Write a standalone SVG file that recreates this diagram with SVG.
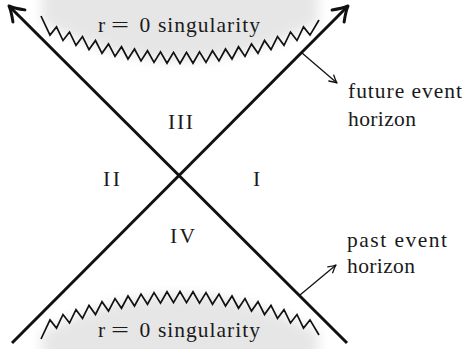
<svg xmlns="http://www.w3.org/2000/svg" xmlns:xlink="http://www.w3.org/1999/xlink" width="465" height="349" viewBox="0 0 465 349">
  <style>
    .lbl { font-family: "Liberation Serif", "Times New Roman", serif; font-size: 21.5px; fill: #1a1a1a; }
    .horizon { fill: none; stroke: #111; stroke-width: 3; }
    .pointer { fill: none; stroke: #111; stroke-width: 1.3; }
    .zig { fill: none; stroke: #111; stroke-width: 1.7; stroke-linejoin: miter; }
    .shade { fill: #e6e6e6; }
  </style>
  <defs>
    <filter id="blur" filterUnits="userSpaceOnUse" x="-50" y="-80" width="565" height="520">
      <feGaussianBlur stdDeviation="6"/>
    </filter>
    <marker id="bigArrow" markerUnits="userSpaceOnUse" orient="auto" refX="0" refY="0" markerWidth="20" markerHeight="20" overflow="visible">
      <path d="M -14,-8.5 Q -6,-2.5 0,0 Q -6,2.5 -14,8.5" fill="none" stroke="#111" stroke-width="3" stroke-linecap="round" stroke-linejoin="round"/>
    </marker>
    <marker id="smallArrow" markerUnits="userSpaceOnUse" orient="auto" refX="0" refY="0" markerWidth="10" markerHeight="10" overflow="visible">
      <path d="M -7.5,-3.8 Q -3,-1 0,0 Q -3,1 -7.5,3.8" fill="none" stroke="#111" stroke-width="1.3" stroke-linecap="round" stroke-linejoin="round"/>
    </marker>
    <path id="shadeShape" class="shade" d="M 42,-30 L 42,22 Q 180,100 318,22 L 318,-30 Z"/>
    <polyline id="zigzag" class="zig" points="41,16 50,35.11 56.5,26.88 63,40.5 69.5,31.99 76,45.33 82.5,36.53 89,49.59 95.5,40.5 102,53.28 108.5,43.91 115,56.4 121.5,46.75 128,58.96 134.5,49.02 141,60.94 147.5,50.73 154,62.36 160.5,51.86 167,63.22 173.5,52.43 180,63.5 186.5,52.43 193,63.22 199.5,51.86 206,62.36 212.5,50.73 219,60.94 225.5,49.02 232,58.96 238.5,46.75 245,56.4 251.5,43.91 258,53.28 264.5,40.5 271,49.59 277.5,36.53 284,45.33 290.5,31.99 297,40.5 303.5,26.88 310,35.11 319,20"/>
  </defs>

  <g id="future-singularity">
    <use xlink:href="#shadeShape" href="#shadeShape" filter="url(#blur)"/>
    <use xlink:href="#zigzag" href="#zigzag"/>
    <text class="lbl" y="32"><tspan x="98">r</tspan><tspan x="111" textLength="18" lengthAdjust="spacingAndGlyphs">=</tspan><tspan x="139.5">0</tspan><tspan x="158" textLength="102">singularity</tspan></text>
  </g>

  <g id="past-singularity">
    <g transform="matrix(1,0,0,-1,0,355)">
      <use xlink:href="#shadeShape" href="#shadeShape" filter="url(#blur)"/>
      <use xlink:href="#zigzag" href="#zigzag"/>
    </g>
    <text class="lbl" y="337"><tspan x="98">r</tspan><tspan x="111" textLength="18" lengthAdjust="spacingAndGlyphs">=</tspan><tspan x="139.5">0</tspan><tspan x="158" textLength="102">singularity</tspan></text>
  </g>

  <g id="connectors">
    <path class="horizon" d="M 347,343 L 9,6" marker-end="url(#bigArrow)"/>
    <path class="horizon" d="M 12,343 L 348,6" marker-end="url(#bigArrow)"/>
    <path class="pointer" d="M 302,53 L 337,83" marker-end="url(#smallArrow)"/>
    <path class="pointer" d="M 300,295 L 336,265" marker-end="url(#smallArrow)"/>
  </g>

  <g id="region-III"><text class="lbl" x="168" y="129" textLength="25">III</text></g>
  <g id="region-II"><text class="lbl" x="103" y="186" textLength="17">II</text></g>
  <g id="region-I"><text class="lbl" x="253" y="186">I</text></g>
  <g id="region-IV"><text class="lbl" x="170" y="243" textLength="25">IV</text></g>

  <g id="future-horizon-label">
    <text class="lbl" x="348" y="98" textLength="114">future event</text>
    <text class="lbl" x="348" y="126" textLength="68">horizon</text>
  </g>
  <g id="past-horizon-label">
    <text class="lbl" x="347" y="247" textLength="100">past event</text>
    <text class="lbl" x="347" y="273" textLength="68">horizon</text>
  </g>
</svg>
